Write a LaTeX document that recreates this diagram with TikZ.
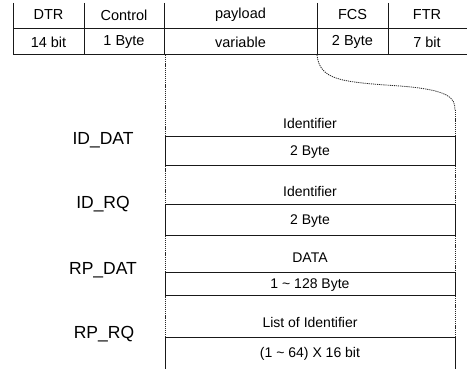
\documentclass[tikz,border=0pt]{standalone}
\usepackage{fontspec}
\setmainfont{Liberation Sans}
\begin{document}
\begin{tikzpicture}[x=1pt,y=-1pt,
  solidln/.style={line width=1pt,black!90},
  dotln/.style={line width=0.8pt,black!85,dash pattern=on 1.2pt off 0.9pt},
  hdr/.style={inner sep=0pt,font=\fontsize{14.5}{15}\selectfont},
  cell/.style={inner sep=0pt,font=\fontsize{14}{14}\selectfont},
  msg/.style={inner sep=0pt,font=\fontsize{17.5}{18}\selectfont}]
\useasboundingbox (0,0) rectangle (467,369);

% frame header table
\draw[solidln] (13,29) -- (467,29);
\draw[solidln] (13,55) -- (467,55);
\foreach \xx in {13,84,164,317,388}
  \draw[solidln] (\xx,3) -- (\xx,55);

\node[hdr] (hdtr) at (48.5,15) {DTR};
\node[hdr] (hctl) at (124,15) {Control};
\node[hdr] (hpay) at (240.5,15) {payload};
\node[hdr] (hfcs) at (352.5,15) {FCS};
\node[hdr] (hftr) at (427,15) {FTR};
\node[hdr] (vdtr) at (48.5,42) {14 bit};
\node[hdr] (vctl) at (124,42) {1 Byte};
\node[hdr] (vpay) at (240.5,42) {variable};
\node[hdr] (vfcs) at (352.5,42) {2 Byte};
\node[hdr] (vftr) at (427,42) {7 bit};

% expansion of the payload field
\coordinate (pl) at (165,55);
\coordinate (pr) at (317,55);
\coordinate (er) at (455,110);
\draw[dotln] (pl) -- (165,369);
\draw[dotln] (pr) .. controls (320,80) and (340,82) .. (400,86)
               .. controls (450,90) and (455,98) .. (er);

% message layouts: dotted sides for the name cell, solid for the size cell
\draw[dotln] (er) -- (455,137);
\draw[solidln] (165,137) -- (455,137) -- (455,166) -- (165,166) -- cycle;
\draw[dotln] (455,166) -- (455,205);
\draw[solidln] (165,205) -- (455,205) -- (455,236) -- (165,236) -- cycle;
\draw[dotln] (455,236) -- (455,273);
\draw[solidln] (165,273) -- (455,273) -- (455,296) -- (165,296) -- cycle;
\draw[dotln] (455,296) -- (455,338);
\draw[solidln] (165,369) -- (165,338) -- (455,338) -- (455,369);

\node[cell] (f1a) at (310,123) {Identifier};
\node[cell] (f1b) at (310,152) {2 Byte};
\node[cell] (f2a) at (310,191) {Identifier};
\node[cell] (f2b) at (310,221) {2 Byte};
\node[cell] (f3a) at (310,258) {DATA};
\node[cell] (f3b) at (310,285) {1 \textasciitilde{} 128 Byte};
\node[cell] (f4a) at (310,322) {List of Identifier};
\node[cell] (f4b) at (310,354) {(1 \textasciitilde{} 64) X 16 bit};

\node[msg] (m1) at (103,140) {ID\_DAT};
\node[msg] (m2) at (103,204) {ID\_RQ};
\node[msg] (m3) at (103,270) {RP\_DAT};
\node[msg] (m4) at (104,334) {RP\_RQ};
\end{tikzpicture}
\end{document}
